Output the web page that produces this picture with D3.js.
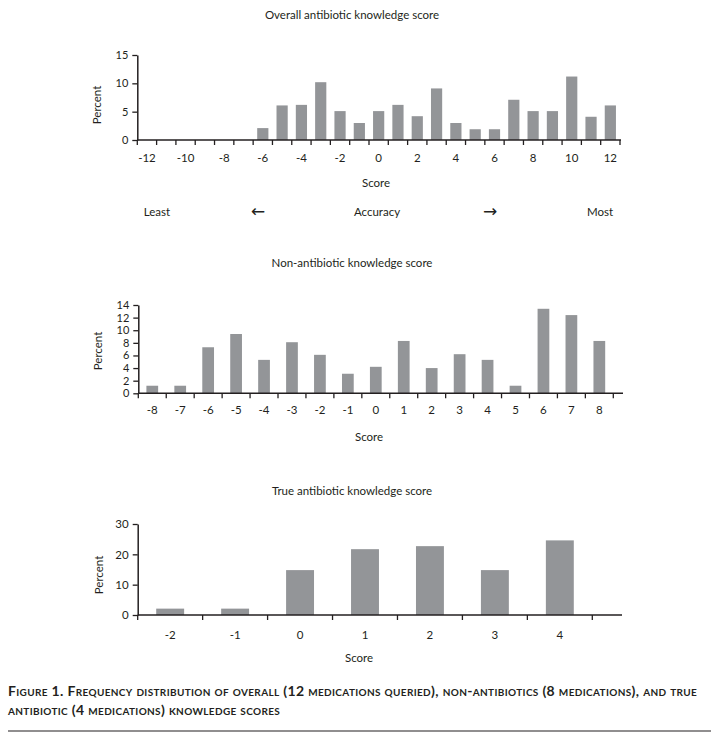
<!DOCTYPE html>
<html><head><meta charset="utf-8">
<script src="https://cdn.jsdelivr.net/npm/d3@7"></script>
<style>
body{margin:0;background:#fff}
text{font-family:Lato,"Open Sans",sans-serif;fill:#231f20}
</style>
</head><body>
<svg id="c" width="719" height="742"></svg>
<script>
// ---- data ----
const overallScores = [-12,-11,-10,-9,-8,-7,-6,-5,-4,-3,-2,-1,0,1,2,3,4,5,6,7,8,9,10,11,12];
const overallPercent = [0,0,0,0,0,0,2.1,6.1,6.2,10.2,5.1,3.0,5.1,6.2,4.2,9.1,3.0,1.9,1.9,7.1,5.1,5.1,11.2,4.1,6.1];
const overallTickLabels = [-12,-10,-8,-6,-4,-2,0,2,4,6,8,10,12];
const overallYTicks = [0,5,10,15];

const nonAbScores = [-8,-7,-6,-5,-4,-3,-2,-1,0,1,2,3,4,5,6,7,8];
const nonAbPercent = [1.2,1.2,7.3,9.4,5.3,8.1,6.1,3.1,4.2,8.3,4.0,6.2,5.3,1.2,13.4,12.4,8.3];
const nonAbTickLabels = nonAbScores;
const nonAbYTicks = [0,2,4,6,8,10,12,14];

const trueAbScores = [-2,-1,0,1,2,3,4];
const trueAbPercent = [2.1,2.1,14.8,21.7,22.7,14.8,24.6];
const trueAbTickLabels = trueAbScores;
const trueAbYTicks = [0,10,20,30];

const titles = ["Overall antibiotic knowledge score","Non-antibiotic knowledge score","True antibiotic knowledge score"];

// ---- drawing ----
const svg = d3.select("#c");
const barColor = "#939598";
const ink = "#231f20";

function drawChart(cfg){
  const g = svg.append("g");
  const n = cfg.cats.length;
  const x = d3.scaleBand().domain(cfg.cats).range([cfg.x0, cfg.x1])
      .paddingInner(1-cfg.ratio).paddingOuter((1-cfg.ratio)/2);
  const y = d3.scaleLinear().domain([0, cfg.yMax]).range([cfg.y0, cfg.yTop]);
  const step = x.step(), bw = x.bandwidth();

  // bars
  g.selectAll("rect.bar").data(cfg.cats.map((c,i)=>({c, v:cfg.vals[i]})).filter(d=>d.v>0))
    .join("rect").attr("class","bar")
    .attr("x", d=>x(d.c)).attr("width", bw)
    .attr("y", d=>y(d.v)).attr("height", d=>y(0)-y(d.v))
    .attr("fill", barColor);

  // y axis
  const ya = g.append("g").attr("transform",`translate(${cfg.x0},0)`)
    .call(d3.axisLeft(y).tickValues(cfg.yTicks).tickSize(5).tickSizeOuter(0).tickPadding(4));
  ya.selectAll("path").attr("stroke", ink).attr("stroke-width",1.5);
  ya.selectAll("line").attr("stroke", ink).attr("stroke-width",1.3);
  ya.selectAll("text").attr("font-size", cfg.yFont||11).attr("font-family","Lato").attr("fill",ink);

  // x axis baseline
  g.append("line").attr("x1", cfg.x0).attr("x2", cfg.axisEnd)
    .attr("y1", y(0)).attr("y2", y(0)).attr("stroke", ink).attr("stroke-width",1.5);
  // tick marks at band boundaries
  const bounds = cfg.cats.map(c=>x(c)-(step-bw)/2).concat([x(cfg.cats[n-1])+bw+(step-bw)/2]);
  g.selectAll("line.tk").data(bounds).join("line").attr("class","tk")
    .attr("x1",d=>d).attr("x2",d=>d).attr("y1",y(0)).attr("y2",y(0)+5)
    .attr("stroke",ink).attr("stroke-width",1.3);
  // labels
  const xa = g.append("g").attr("transform",`translate(0,${y(0)})`)
    .call(d3.axisBottom(x).tickValues(cfg.labels).tickSize(0).tickPadding(cfg.labelPad));
  xa.select(".domain").remove();
  xa.selectAll("text").attr("font-size",11.5).attr("font-family","Lato").attr("fill",ink);

  // titles
  g.append("text").attr("x", 352).attr("y", cfg.titleY).attr("text-anchor","middle")
    .attr("font-size",11.5).text(cfg.title);
  g.append("text").attr("transform",`translate(${cfg.pctX},${cfg.pctY}) rotate(-90)`)
    .attr("text-anchor","middle").attr("font-size",11.5).text("Percent");
  g.append("text").attr("x", cfg.scoreX).attr("y", cfg.scoreY).attr("text-anchor","middle")
    .attr("font-size",11.5).text("Score");
}

drawChart({cats:overallScores, vals:overallPercent, labels:overallTickLabels, yTicks:overallYTicks,
  x0:137.3, x1:620, axisEnd:621, y0:140, yTop:55, yMax:15, ratio:0.58, labelPad:14,
  title:titles[0], titleY:19, pctX:101, pctY:105, scoreX:376, scoreY:187});

drawChart({cats:nonAbScores, vals:nonAbPercent, labels:nonAbTickLabels, yTicks:nonAbYTicks,
  x0:138.3, x1:613.3, axisEnd:623, y0:393.3, yTop:305, yMax:14, ratio:0.42, labelPad:13,
  title:titles[1], titleY:267, pctX:102, pctY:351, scoreX:369, scoreY:441});

drawChart({cats:trueAbScores, vals:trueAbPercent, labels:trueAbTickLabels, yTicks:trueAbYTicks,
  x0:137.7, x1:592.3, axisEnd:622, y0:615, yTop:524, yMax:30, ratio:0.43, labelPad:16, yFont:11.5,
  title:titles[2], titleY:495, pctX:103, pctY:575, scoreX:359, scoreY:662});

// accuracy legend row
const accRow = [["Least",157],["\u2190",258],["Accuracy",377],["\u2192",490],["Most",600]];
svg.selectAll("text.acc").data(accRow).join("text").attr("class","acc")
  .attr("x",d=>d[1]).attr("y",d=>d[0].length===1?217:216).attr("text-anchor","middle")
  .attr("font-size",d=>d[0].length===1?17:11.5)
  .style("font-family",d=>d[0].length===1?"DejaVu Sans":"Lato")
  .text(d=>d[0]);

// caption
const captionLines = [
  "Figure 1. Frequency distribution of overall (12 medications queried), non-antibiotics (8 medications), and true",
  "antibiotic (4 medications) knowledge scores"
];
svg.selectAll("text.cap").data(captionLines).join("text").attr("class","cap")
  .attr("x",8).attr("y",(d,i)=>696+i*19).attr("font-size",14).attr("font-weight","bold")
  .attr("letter-spacing",0.35)
  .style("font-variant","small-caps").text(d=>d);
svg.append("line").attr("x1",8).attr("x2",711).attr("y1",731).attr("y2",731)
  .attr("stroke",ink).attr("stroke-width",1.2);
</script>
</body></html>
